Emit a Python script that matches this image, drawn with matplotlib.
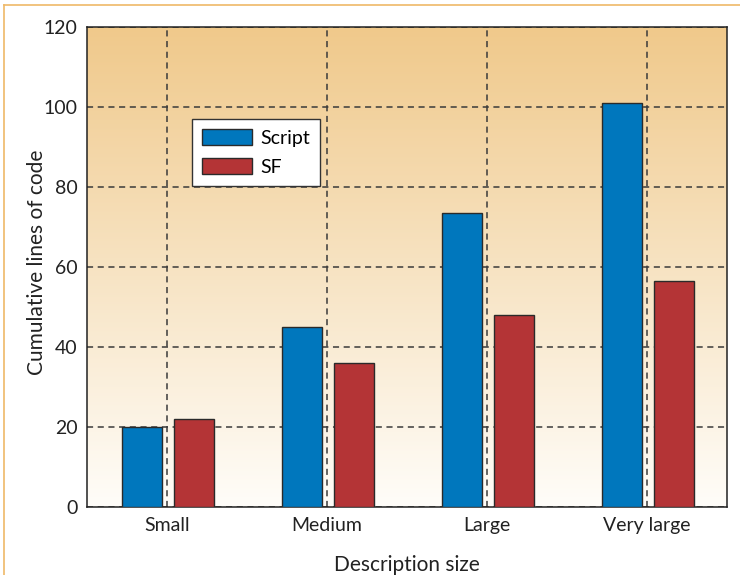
import numpy as np
import matplotlib.pyplot as plt
from matplotlib.colors import LinearSegmentedColormap
from matplotlib.lines import Line2D

sizes = ['Small', 'Medium', 'Large', 'Very large']
script_loc = [20, 45, 73.5, 101]
sf_loc = [22, 36, 48, 56.5]

plt.rcParams['font.family'] = ['Lato', 'DejaVu Sans']

fig = plt.figure(figsize=(7.4, 5.75), dpi=100)
ax = fig.add_axes([0.1176, 0.1183, 0.8648, 0.8347])

# warm gradient behind the plot area, tan at the top fading to white
bg = LinearSegmentedColormap.from_list('bg', ['#fffdf9', '#f7e3c2', '#f0c98b'])
grad = np.linspace(0, 1, 256).reshape(-1, 1)
ax.imshow(grad, cmap=bg, extent=[0, 1, 0, 1], transform=ax.transAxes,
          aspect='auto', origin='lower', zorder=0)

x = np.arange(len(sizes))
w = 0.25
ax.bar(x - 0.155, script_loc, w, color='#0077bd', edgecolor='#2a2a2a',
       linewidth=1.0, label='Script', zorder=3)
ax.bar(x + 0.17, sf_loc, w, color='#b43436', edgecolor='#2a2a2a',
       linewidth=1.0, label='SF', zorder=3)

ax.set_xlim(-0.5, 3.5)
ax.set_ylim(0, 120)
ax.set_xticks(x)
ax.set_xticklabels(sizes)
ax.set_yticks(range(0, 121, 20))
ax.tick_params(length=0, labelsize=14, pad=7, colors='#222222')
ax.grid(True, color='#3a3a3a', linestyle=(0, (4, 3)), linewidth=1.1, zorder=1)
for s in ax.spines.values():
    s.set_color('#222222')
    s.set_linewidth(1.1)

ax.set_xlabel('Description size', fontsize=15, labelpad=15, color='#222222')
ax.set_ylabel('Cumulative lines of code', fontsize=15, color='#222222')
ax.yaxis.set_label_coords(-0.062, 0.51)

leg = ax.legend(loc='upper left', bbox_to_anchor=(0.164, 0.808), fontsize=14,
                frameon=True, fancybox=False, edgecolor='#333333',
                framealpha=1, handlelength=2.6, handleheight=0.9,
                borderpad=0.5, labelspacing=0.6, handletextpad=0.4,
                borderaxespad=0)
leg.get_frame().set_linewidth(1.0)

# thin orange rule along the top and left edges of the figure
fig.add_artist(Line2D([0.005, 1], [0.991, 0.991], transform=fig.transFigure,
                      color='#efb968', linewidth=1.2))
fig.add_artist(Line2D([0.005, 0.005], [0, 0.991], transform=fig.transFigure,
                      color='#efb968', linewidth=1.2))

fig.savefig('out.png', dpi=100)
